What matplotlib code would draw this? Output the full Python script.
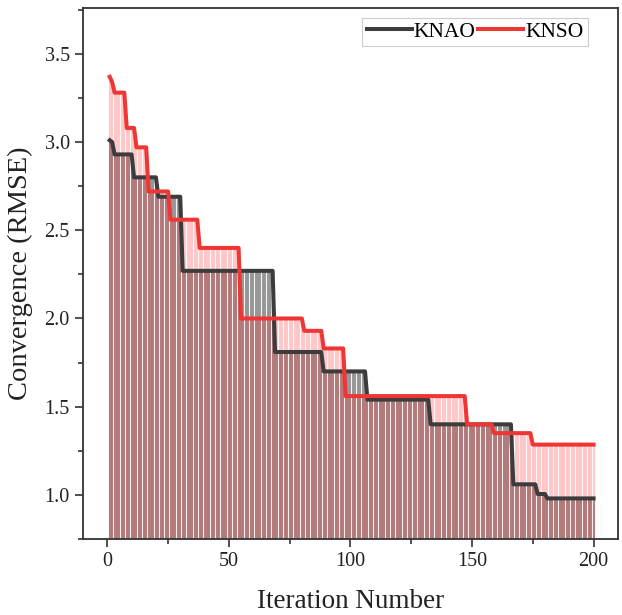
import matplotlib
matplotlib.use('Agg')
import matplotlib.pyplot as plt
from matplotlib.ticker import MultipleLocator, FormatStrFormatter
import numpy as np

plt.rcParams['font.family'] = ['Liberation Serif', 'DejaVu Serif']

# Convergence levels: (iteration where the level starts, RMSE)
knao_steps = [(1, 3.01), (2, 3.00), (3, 2.93), (11, 2.80), (21, 2.69), (31, 2.27),
              (69, 1.81), (89, 1.70), (107, 1.54), (133, 1.40), (167, 1.06),
              (177, 1.005), (181, 0.98)]
knso_steps = [(1, 3.37), (2, 3.34), (3, 3.28), (8, 3.08), (12, 2.97), (17, 2.72),
              (26, 2.56), (38, 2.40), (55, 2.00), (81, 1.93), (89, 1.83),
              (98, 1.56), (148, 1.40), (159, 1.35), (175, 1.285)]
n_iter = 200
series_names = ['KNAO', 'KNSO']

def expand(steps, n):
    # hold each level until the next one starts
    starts = [s for s, _ in steps] + [n + 1]
    vals = [v for _, v in steps]
    return np.repeat(vals, np.diff(starts))

iters = np.arange(1, n_iter + 1)
knao = expand(knao_steps, n_iter)
knso = expand(knso_steps, n_iter)

y_bottom = 0.75
fig = plt.figure(figsize=(6.22, 6.15), dpi=100)
ax = fig.add_axes([0.1334, 0.1236, 0.860, 0.8634])

# drop lines under each curve
ax.vlines(iters, y_bottom, knao, color='#555555', alpha=0.6, lw=1.5, zorder=1)
ax.vlines(iters, y_bottom, knso, color='#ff3030', alpha=0.26, lw=1.5, zorder=2)

ax.plot(iters, knao, color='#3c3c3c', lw=2.9, label=series_names[0], zorder=3,
        solid_joinstyle='round')
ax.plot(iters, knso, color='#f03535', lw=2.9, label=series_names[1], zorder=4,
        solid_joinstyle='round')

ax.set_xlim(-10, 210)
ax.set_ylim(y_bottom, 3.76)
ax.xaxis.set_major_locator(MultipleLocator(50))
ax.xaxis.set_minor_locator(MultipleLocator(25))
ax.yaxis.set_major_locator(MultipleLocator(0.5))
ax.yaxis.set_minor_locator(MultipleLocator(0.25))
ax.yaxis.set_major_formatter(FormatStrFormatter('%.1f'))
ax.tick_params(which='both', direction='out', top=False, right=False,
               width=1.2, color='#333333', labelsize=14.5, labelcolor='#222222')
ax.tick_params(which='major', length=6)
ax.tick_params(which='minor', length=3.5)
for sp in ax.spines.values():
    sp.set_linewidth(1.3)
    sp.set_color('#333333')

ax.set_xlabel('Iteration Number', fontsize=19.5, color='#222222', labelpad=13)
ax.set_ylabel('Convergence (RMSE)', fontsize=20.5, color='#222222', labelpad=8)

leg = ax.legend(loc='center', bbox_to_anchor=(0.733, 0.955), ncol=2, fontsize=15.5,
                handlelength=2.1, handletextpad=0.1, columnspacing=0.1,
                borderpad=0.2, borderaxespad=0, fancybox=False, framealpha=1)
leg.get_frame().set_edgecolor('#cccccc')
leg.get_frame().set_linewidth(0.8)

fig.savefig('out.png', dpi=100)
